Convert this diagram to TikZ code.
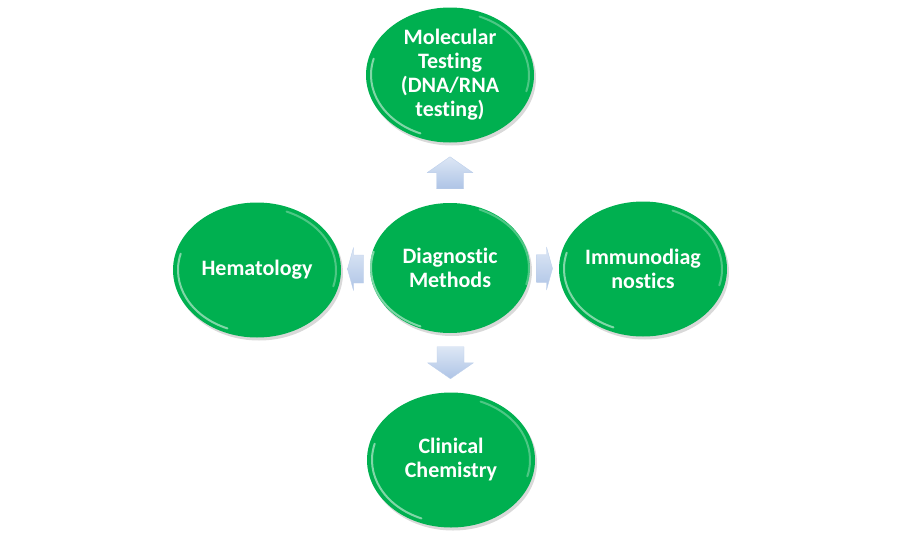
\documentclass[tikz,border=0pt]{standalone}
\usepackage{fontspec}
\setmainfont{Carlito}[Ligatures={NoCommon,NoRare}]
\usetikzlibrary{shapes.geometric,shadows,calc}
\definecolor{methgreen}{HTML}{00B050}
\definecolor{arrowtop}{HTML}{DDE7F5}
\definecolor{arrowbot}{HTML}{AEC4E6}

\begin{document}
\begin{tikzpicture}[x=1pt,y=-1pt,
    method/.style={ellipse, fill=methgreen, minimum width=168pt, minimum height=135pt,
      inner sep=0pt, text=white, align=center,
      font=\fontsize{22}{24}\selectfont\bfseries,
      drop shadow={shadow xshift=2pt, shadow yshift=-3pt, opacity=0.3}},
    rim/.style={white, line width=2pt, opacity=0.5, line cap=round},
    blockarrow/.style={top color=arrowtop, bottom color=arrowbot,
      draw=arrowbot!80!white, line width=0.4pt, line join=round}]
            \useasboundingbox (0,0) rectangle (900,546);

            \node[method, minimum width=160pt, minimum height=130pt] (dm) at (450,268) {Diagnostic\\Methods};
            \node[method] (mt) at (450,75) {Molecular\\Testing\\(DNA/RNA\\testing)};
            \node[method] (hem) at (257,270) {Hematology};
            \node[method] (imm) at (643,269) {Immunodiag\\nostics};
            \node[method] (cc) at (451,460) {Clinical\\Chemistry};

            \foreach \n in {dm,mt,hem,imm,cc}{
              \draw[rim] ($(\n.center)+(112:79 and 63)$) arc[start angle=112, end angle=195, x radius=79, y radius=63];
              \draw[rim, opacity=0.3] ($(\n.center)+(292:79 and 63)$) arc[start angle=292, end angle=375, x radius=79, y radius=63];
            }

            \coordinate (up) at ($(dm.north)!0.5!(mt.south)$);
            \coordinate (down) at ($(dm.south)!0.5!(cc.north)$);
            \coordinate (left) at ($(dm.west)!0.5!(hem.east)$);
            \coordinate (right) at ($(dm.east)!0.5!(imm.west)$);

            \draw[blockarrow] (up) ++(0,-16) -- ++(23,16) -- ++(-9.5,0) -- ++(0,16) -- ++(-27,0) -- ++(0,-16) -- ++(-9.5,0) -- cycle;
            \draw[blockarrow] (down) ++(0,16) -- ++(23,-16) -- ++(-9.5,0) -- ++(0,-16) -- ++(-27,0) -- ++(0,16) -- ++(-9.5,0) -- cycle;
            \draw[blockarrow] (left) ++(-8,0) -- ++(6,-21.5) -- ++(0,7.5) -- ++(10,0) -- ++(0,28) -- ++(-10,0) -- ++(0,7.5) -- cycle;
            \draw[blockarrow] (right) ++(8,0) -- ++(-6,-21.5) -- ++(0,7.5) -- ++(-10,0) -- ++(0,28) -- ++(10,0) -- ++(0,7.5) -- cycle;
        \end{tikzpicture}
\end{document}
